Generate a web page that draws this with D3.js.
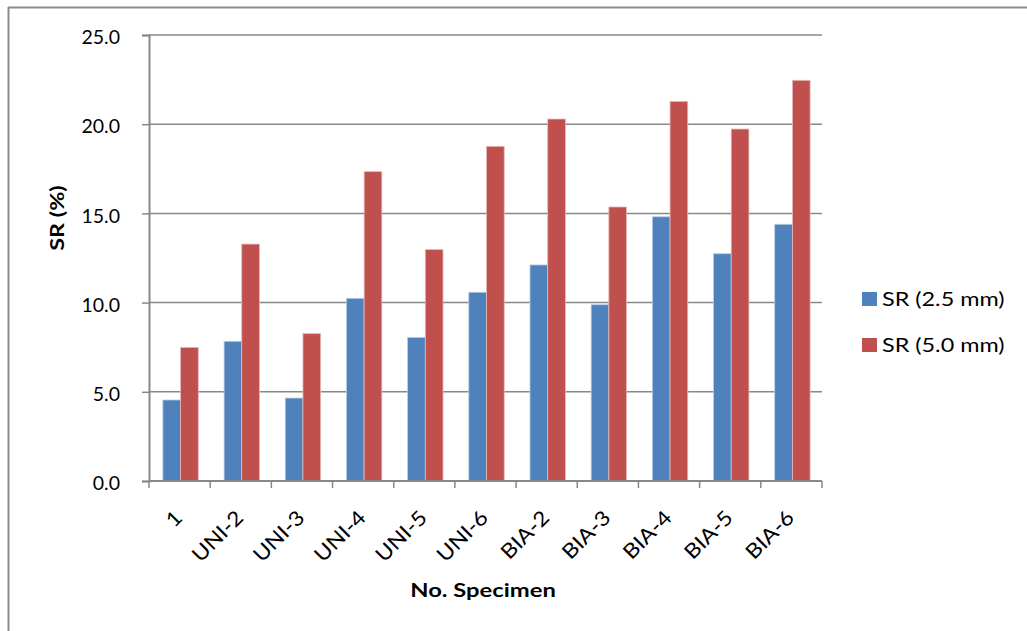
<!DOCTYPE html>
<html>
<head>
<meta charset="utf-8">
<script src="https://cdn.jsdelivr.net/npm/d3@7"></script>
<style>
  body { margin: 0; background: #fff; }
  text { font-family: Lato, "Open Sans", sans-serif; fill: #000; }
</style>
</head>
<body>
<div id="chart"></div>
<script>
// Data
const specimens = ["1", "UNI-2", "UNI-3", "UNI-4", "UNI-5", "UNI-6", "BIA-2", "BIA-3", "BIA-4", "BIA-5", "BIA-6"];
const sr25 = [4.54, 7.83, 4.65, 10.24, 8.05, 10.58, 12.11, 9.88, 14.81, 12.74, 14.39];
const sr50 = [7.49, 13.28, 8.26, 17.34, 12.97, 18.76, 20.29, 15.36, 21.28, 19.73, 22.46];
const seriesNames = ["SR (2.5 mm)", "SR (5.0 mm)"];
const seriesColors = ["#4F81BD", "#C0504D"];
const yTicks = [0, 5, 10, 15, 20, 25];

const W = 1027, H = 631;
const plot = { left: 149, right: 822, top: 35, bottom: 481 };
const gridColor = "#888";

const svg = d3.select("#chart").append("svg")
  .attr("width", W).attr("height", H);

// Outer chart frame (only top and left edges show)
svg.append("line").attr("x1", 8).attr("x2", W).attr("y1", 7.5).attr("y2", 7.5)
  .attr("stroke", "#8c8c8c").attr("stroke-width", 2);
svg.append("line").attr("x1", 8.5).attr("x2", 8.5).attr("y1", 7).attr("y2", H)
  .attr("stroke", "#8c8c8c").attr("stroke-width", 2);

const x = d3.scaleBand().domain(specimens).range([plot.left, plot.right]);
const y = d3.scaleLinear().domain([0, 25]).range([plot.bottom, plot.top]);

const groupW = 35.4;
const xs = d3.scaleBand().domain(seriesNames).range([0, groupW]);

// Horizontal grid lines
svg.append("g")
  .selectAll("line")
  .data(yTicks.filter((d) => d > 0))
  .enter()
  .append("line")
  .attr("x1", plot.left).attr("x2", plot.right)
  .attr("y1", (d) => y(d)).attr("y2", (d) => y(d))
  .attr("stroke", gridColor).attr("stroke-width", 1.5);

// Bars
const rows = specimens.map((s, i) => ({ name: s, values: [sr25[i], sr50[i]] }));
const groups = svg.append("g").selectAll("g")
  .data(rows)
  .enter()
  .append("g")
  .attr("transform", (d) => `translate(${x(d.name) + (x.bandwidth() - groupW) / 2 + 1},0)`);

groups.selectAll("rect")
  .data((d) => d.values.map((v, j) => ({ key: seriesNames[j], v: v, c: seriesColors[j] })))
  .enter()
  .append("rect")
  .attr("x", (d) => xs(d.key))
  .attr("width", xs.bandwidth())
  .attr("y", (d) => y(d.v))
  .attr("height", (d) => plot.bottom - y(d.v))
  .attr("fill", (d) => d.c)
  .attr("stroke", (d, j) => (j === 0 ? "#b9cde5" : "#e6b9b8"))
  .attr("stroke-width", 0.8);

// Y axis
const yAxis = svg.append("g")
  .attr("transform", `translate(${plot.left},0)`)
  .call(d3.axisLeft(y).tickValues(yTicks).tickFormat(d3.format(".1f")).tickSizeOuter(0).tickSize(7).tickPadding(22));
yAxis.select(".domain").attr("stroke", gridColor).attr("stroke-width", 2);
yAxis.selectAll(".tick line").attr("stroke", gridColor).attr("stroke-width", 1.5);
yAxis.selectAll(".tick text").style("font-size", "19.5px").attr("dy", "0.45em");

// X axis line and ticks at category boundaries
svg.append("line")
  .attr("x1", plot.left).attr("x2", plot.right)
  .attr("y1", plot.bottom).attr("y2", plot.bottom)
  .attr("stroke", gridColor).attr("stroke-width", 2);
const bounds = specimens.map((s) => x(s)).concat([plot.right]);
svg.append("g").selectAll("line")
  .data(bounds)
  .enter()
  .append("line")
  .attr("x1", (d) => d).attr("x2", (d) => d)
  .attr("y1", plot.bottom).attr("y2", plot.bottom + 7)
  .attr("stroke", gridColor).attr("stroke-width", 1.5);

// X labels, rotated
svg.append("g").selectAll("text")
  .data(specimens)
  .enter()
  .append("text")
  .attr("transform", (d) => `translate(${x(d) + x.bandwidth() / 2 + 4},${plot.bottom + 38}) rotate(-45) scale(1.12,1)`)
  .attr("text-anchor", "end")
  .style("font-size", "20.5px")
  .text((d) => d);

// Axis titles
svg.append("text")
  .attr("transform", "translate(64,218) rotate(-90) scale(1.2,1)")
  .attr("text-anchor", "middle")
  .style("font-size", "19.5px").style("font-weight", "bold")
  .text("SR (%)");
svg.append("text")
  .attr("transform", "translate(483,597) scale(1.22,1)")
  .attr("text-anchor", "middle")
  .style("font-size", "19.5px").style("font-weight", "bold")
  .text("No. Specimen");

// Legend
const legend = svg.append("g").selectAll("g")
  .data(seriesNames)
  .enter()
  .append("g")
  .attr("transform", (d, i) => `translate(862,${292 + i * 46})`);
legend.append("rect")
  .attr("width", 15).attr("height", 14)
  .attr("fill", (d, i) => seriesColors[i]);
legend.append("text")
  .attr("transform", "translate(20,14) scale(1.2,1)")
  .style("font-size", "19.5px")
  .text((d) => d);
</script>
</body>
</html>
